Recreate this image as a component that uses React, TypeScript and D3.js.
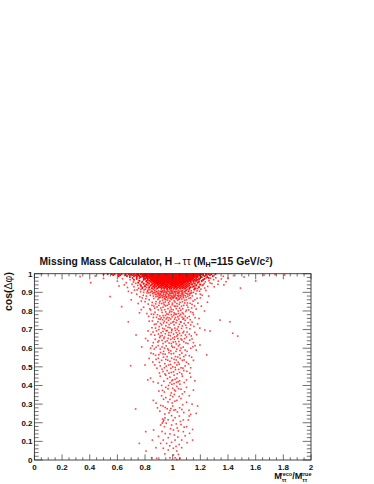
import React from "react";
import * as d3 from "d3";

const xLabels = [0, 0.2, 0.4, 0.6, 0.8, 1, 1.2, 1.4, 1.6, 1.8, 2];
const yLabels = [0, 0.1, 0.2, 0.3, 0.4, 0.5, 0.6, 0.7, 0.8, 0.9, 1];

// solid part under the top edge: one cos value per row, masses read along it
const coreCos = [0.997, 0.992, 0.987, 0.982, 0.977, 0.972, 0.967, 0.962, 0.957, 0.952, 0.947, 0.942, 0.937, 0.932, 0.927, 0.922];
const coreMass = [
  [0.5, 0.53, 0.56, 0.58, 0.61, 0.63, 0.66, 0.68, 0.7, 0.72, 0.74, 0.75, 0.77, 0.78, 0.79, 0.8, 0.81, 0.82, 0.83, 0.84, 0.85, 0.86, 0.87, 0.88, 0.89, 0.9, 0.91, 0.92, 0.93, 0.94, 0.95, 0.96, 0.97, 0.98, 0.99, 1, 1.01, 1.02, 1.03, 1.04, 1.05, 1.06, 1.07, 1.08, 1.09, 1.1, 1.11, 1.12, 1.13, 1.14, 1.15, 1.16, 1.17, 1.18, 1.19, 1.2, 1.21, 1.22, 1.24, 1.26, 1.28, 1.31],
  [0.57, 0.62, 0.66, 0.69, 0.71, 0.73, 0.75, 0.76, 0.78, 0.79, 0.8, 0.81, 0.82, 0.83, 0.84, 0.85, 0.86, 0.87, 0.88, 0.89, 0.9, 0.91, 0.92, 0.93, 0.94, 0.95, 0.96, 0.97, 0.98, 0.99, 1, 1.01, 1.02, 1.03, 1.04, 1.05, 1.06, 1.07, 1.08, 1.09, 1.1, 1.11, 1.12, 1.13, 1.14, 1.15, 1.16, 1.17, 1.18, 1.19, 1.2, 1.22, 1.24, 1.27],
  [0.61, 0.67, 0.72, 0.74, 0.76, 0.78, 0.79, 0.8, 0.81, 0.82, 0.83, 0.84, 0.85, 0.86, 0.87, 0.88, 0.89, 0.9, 0.91, 0.92, 0.93, 0.94, 0.95, 0.96, 0.97, 0.98, 0.99, 1, 1.01, 1.02, 1.03, 1.04, 1.05, 1.06, 1.07, 1.08, 1.09, 1.1, 1.11, 1.12, 1.13, 1.14, 1.15, 1.16, 1.17, 1.18, 1.2, 1.23, 1.29],
  [0.69, 0.74, 0.77, 0.79, 0.81, 0.82, 0.83, 0.84, 0.85, 0.86, 0.87, 0.88, 0.89, 0.9, 0.91, 0.92, 0.93, 0.94, 0.95, 0.96, 0.97, 0.98, 0.99, 1, 1.01, 1.02, 1.03, 1.04, 1.05, 1.06, 1.07, 1.08, 1.09, 1.1, 1.11, 1.12, 1.13, 1.14, 1.15, 1.16, 1.18, 1.21, 1.25],
  [0.71, 0.76, 0.79, 0.81, 0.83, 0.84, 0.85, 0.86, 0.87, 0.88, 0.89, 0.9, 0.91, 0.92, 0.93, 0.94, 0.95, 0.96, 0.97, 0.98, 0.99, 1, 1.01, 1.02, 1.03, 1.04, 1.05, 1.06, 1.07, 1.08, 1.09, 1.1, 1.11, 1.12, 1.13, 1.14, 1.15, 1.17, 1.2, 1.26],
  [0.74, 0.8, 0.82, 0.84, 0.85, 0.86, 0.87, 0.88, 0.89, 0.9, 0.91, 0.92, 0.93, 0.94, 0.95, 0.96, 0.97, 0.98, 0.99, 1, 1.01, 1.02, 1.03, 1.04, 1.05, 1.06, 1.07, 1.08, 1.09, 1.1, 1.11, 1.12, 1.13, 1.14, 1.15, 1.17, 1.19, 1.23],
  [0.72, 0.79, 0.82, 0.84, 0.85, 0.86, 0.87, 0.88, 0.89, 0.9, 0.91, 0.92, 0.93, 0.94, 0.95, 0.96, 0.97, 0.98, 0.99, 1, 1.01, 1.02, 1.03, 1.04, 1.05, 1.06, 1.07, 1.08, 1.09, 1.1, 1.11, 1.12, 1.13, 1.14, 1.16, 1.18, 1.22],
  [0.76, 0.81, 0.83, 0.85, 0.86, 0.87, 0.88, 0.89, 0.9, 0.91, 0.92, 0.93, 0.94, 0.95, 0.96, 0.97, 0.98, 0.99, 1, 1.01, 1.02, 1.03, 1.04, 1.05, 1.06, 1.07, 1.08, 1.09, 1.1, 1.11, 1.12, 1.13, 1.15, 1.17, 1.21],
  [0.78, 0.81, 0.84, 0.86, 0.87, 0.88, 0.89, 0.9, 0.91, 0.92, 0.93, 0.94, 0.95, 0.96, 0.97, 0.98, 0.99, 1, 1.01, 1.02, 1.03, 1.04, 1.05, 1.06, 1.07, 1.08, 1.09, 1.1, 1.11, 1.13, 1.15, 1.19],
  [0.75, 0.82, 0.85, 0.87, 0.88, 0.89, 0.9, 0.91, 0.92, 0.93, 0.94, 0.95, 0.96, 0.97, 0.98, 0.99, 1, 1.01, 1.02, 1.03, 1.04, 1.05, 1.06, 1.07, 1.08, 1.09, 1.11, 1.13, 1.18],
  [0.79, 0.83, 0.86, 0.88, 0.89, 0.9, 0.91, 0.92, 0.93, 0.94, 0.96, 0.97, 0.98, 0.99, 1, 1.01, 1.02, 1.03, 1.04, 1.05, 1.06, 1.07, 1.08, 1.1, 1.12, 1.16],
  [0.81, 0.85, 0.87, 0.89, 0.9, 0.92, 0.93, 0.94, 0.95, 0.96, 0.98, 0.99, 1, 1.01, 1.02, 1.03, 1.04, 1.06, 1.07, 1.09, 1.11, 1.14, 1.2],
  [0.77, 0.84, 0.87, 0.89, 0.91, 0.92, 0.93, 0.95, 0.96, 0.97, 0.99, 1, 1.01, 1.02, 1.04, 1.05, 1.06, 1.08, 1.1, 1.12, 1.17],
  [0.8, 0.86, 0.88, 0.9, 0.92, 0.94, 0.95, 0.96, 0.98, 0.99, 1.01, 1.02, 1.03, 1.05, 1.07, 1.09, 1.11, 1.15],
  [0.83, 0.87, 0.9, 0.91, 0.93, 0.95, 0.97, 0.98, 1, 1.02, 1.04, 1.06, 1.08, 1.1, 1.13, 1.19],
  [0.78, 0.85, 0.89, 0.92, 0.94, 0.96, 0.98, 0.99, 1.01, 1.03, 1.05, 1.07, 1.09, 1.12, 1.16],
];

// scattered events, grouped by height in the plot: [mass ratio, cos]
const upperEvents: [number, number][] = [
  [0.33, 0.985], [0.407, 0.952], [0.5, 0.975], [0.44, 0.988], [0.547, 0.877], [0.6, 0.96], [0.631, 0.823], [0.65, 0.94], [0.68, 0.905], [0.7, 0.86],
  [0.72, 0.93], [0.74, 0.89], [0.75, 0.84], [0.77, 0.915], [0.78, 0.87], [0.79, 0.9], [0.8, 0.85], [0.81, 0.88], [0.82, 0.91], [0.83, 0.86],
  [0.84, 0.9], [0.85, 0.83], [0.86, 0.88], [0.87, 0.91], [0.88, 0.85], [0.89, 0.895], [0.9, 0.87], [0.91, 0.905], [0.92, 0.84], [0.93, 0.885],
  [0.94, 0.91], [0.95, 0.86], [0.96, 0.895], [0.97, 0.845], [0.98, 0.905], [0.99, 0.875], [1, 0.91], [1.01, 0.855], [1.02, 0.89], [1.03, 0.84],
  [1.04, 0.9], [1.05, 0.865], [1.06, 0.91], [1.07, 0.85], [1.08, 0.885], [1.09, 0.905], [1.1, 0.86], [1.11, 0.89], [1.12, 0.915], [1.13, 0.87],
  [1.15, 0.9], [1.16, 0.86], [1.18, 0.92], [1.2, 0.89], [1.22, 0.94], [1.24, 0.91], [1.27, 0.95], [1.3, 0.93], [1.33, 0.96], [1.37, 0.94],
  [1.4, 0.975], [1.44, 0.99], [1.49, 0.923], [1.516, 0.982], [1.6, 0.961], [1.66, 0.993], [1.74, 0.995], [1.81, 0.993], [1.2, 0.87], [1.26, 0.88],
  [0.91, 0.875], [0.94, 0.865], [0.97, 0.885], [1, 0.875], [1.03, 0.87], [1.06, 0.88], [0.93, 0.905], [0.96, 0.915], [0.99, 0.895], [1.02, 0.915],
  [0.9, 0.89], [0.92, 0.9], [0.95, 0.89], [0.98, 0.87], [1.01, 0.88], [1.04, 0.885], [1.07, 0.9], [1.1, 0.91], [0.88, 0.905], [0.86, 0.915],
  [0.9, 0.83], [0.93, 0.82], [0.96, 0.83], [0.99, 0.81], [1.02, 0.825], [1.05, 0.815], [1.08, 0.83], [1.11, 0.82], [1.14, 0.835], [0.87, 0.815],
  [0.84, 0.805], [0.92, 0.805], [0.95, 0.795], [0.98, 0.8], [1.01, 0.79], [1.04, 0.8], [1.07, 0.79], [1.1, 0.805], [1.13, 0.795], [1.17, 0.81],
  [0.79, 0.82], [0.76, 0.79], [0.89, 0.78], [0.93, 0.775], [0.96, 0.765], [0.99, 0.78], [1.02, 0.765], [1.05, 0.775], [1.08, 0.76], [1.12, 0.77],
  [1.15, 0.78], [1.19, 0.76], [1.23, 0.8], [0.86, 0.765], [0.91, 0.755], [0.94, 0.745], [0.97, 0.75], [1, 0.74], [1.03, 0.75], [1.06, 0.74],
  [1.09, 0.75], [1.342, 0.751], [1.414, 0.742], [0.679, 0.742], [0.83, 0.745], [1.14, 0.74], [0.88, 0.73], [0.92, 0.725], [0.95, 0.72], [0.98, 0.71],
  [1.01, 0.725], [1.04, 0.715], [1.07, 0.72], [1.1, 0.71], [1.13, 0.725], [1.18, 0.73], [1.232, 0.698], [1.27, 0.692], [0.85, 0.71], [0.9, 0.7],
  [0.735, 0.671], [0.93, 0.69], [0.96, 0.695], [0.99, 0.685], [1.02, 0.695], [1.05, 0.68], [1.08, 0.69], [1.12, 0.675], [1.16, 0.685], [1.434, 0.68],
  [1.47, 0.665], [0.87, 0.67], [0.91, 0.665], [0.94, 0.66], [0.97, 0.67], [1, 0.655], [1.03, 0.665], [1.06, 0.65], [1.1, 0.66], [1.14, 0.65],
];

// second pass over the busy area between 0.75 and 0.92
const upperFill: [number, number][] = [
  [0.793, 0.913], [0.814, 0.897], [0.826, 0.918], [0.838, 0.884], [0.847, 0.907], [0.856, 0.893], [0.863, 0.867], [0.871, 0.899], [0.879, 0.876], [0.884, 0.918],
  [0.893, 0.862], [0.897, 0.908], [0.903, 0.884], [0.908, 0.852], [0.913, 0.893], [0.918, 0.915], [0.924, 0.871], [0.927, 0.857], [0.933, 0.897], [0.937, 0.918],
  [0.942, 0.878], [0.946, 0.848], [0.951, 0.904], [0.954, 0.873], [0.958, 0.918], [0.963, 0.858], [0.967, 0.906], [0.972, 0.877], [0.974, 0.916], [0.979, 0.853],
  [0.983, 0.893], [0.987, 0.914], [0.991, 0.862], [0.994, 0.904], [0.998, 0.842], [1.003, 0.894], [1.006, 0.917], [1.009, 0.872], [1.013, 0.903], [1.017, 0.848],
  [1.021, 0.906], [1.024, 0.869], [1.028, 0.918], [1.033, 0.896], [1.036, 0.857], [1.041, 0.912], [1.044, 0.876], [1.048, 0.897], [1.053, 0.846], [1.056, 0.918],
  [1.062, 0.893], [1.066, 0.864], [1.071, 0.908], [1.075, 0.877], [1.082, 0.916], [1.086, 0.858], [1.092, 0.896], [1.097, 0.873], [1.104, 0.917], [1.107, 0.843],
  [1.114, 0.903], [1.118, 0.868], [1.124, 0.892], [1.134, 0.908], [1.142, 0.881], [1.147, 0.853], [1.157, 0.914], [1.168, 0.892], [1.176, 0.868], [1.194, 0.906],
  [1.213, 0.884], [1.231, 0.923], [0.703, 0.897], [0.743, 0.913], [0.762, 0.876], [0.773, 0.853], [0.806, 0.866], [0.823, 0.837], [0.834, 0.812], [0.852, 0.846],
  [0.864, 0.826], [0.876, 0.838], [0.887, 0.821], [0.896, 0.806], [0.904, 0.843], [0.914, 0.816], [0.923, 0.792], [0.934, 0.843], [0.943, 0.807], [0.948, 0.827],
  [0.957, 0.784], [0.966, 0.812], [0.973, 0.836], [0.977, 0.792], [0.984, 0.821], [0.993, 0.796], [0.997, 0.833], [1.004, 0.806], [1.012, 0.826], [1.018, 0.783],
  [1.026, 0.812], [1.034, 0.826], [1.042, 0.787], [1.047, 0.836], [1.058, 0.804], [1.064, 0.826], [1.072, 0.812], [1.078, 0.784], [1.087, 0.843], [1.094, 0.797],
  [1.103, 0.831], [1.116, 0.806], [1.126, 0.841], [1.137, 0.816], [1.146, 0.791], [1.158, 0.827], [1.182, 0.842], [1.207, 0.826], [1.251, 0.847], [0.773, 0.807],
  [0.813, 0.786], [0.846, 0.783], [0.872, 0.793], [0.883, 0.766], [0.898, 0.757], [0.907, 0.773], [0.917, 0.763], [0.927, 0.753], [0.937, 0.764], [0.947, 0.776],
  [0.953, 0.757], [0.968, 0.782], [0.974, 0.763], [0.986, 0.757], [0.996, 0.768], [1.007, 0.777], [1.014, 0.756], [1.027, 0.783], [1.037, 0.768], [1.044, 0.757],
  [1.057, 0.782], [1.068, 0.767], [1.074, 0.756], [1.091, 0.772], [1.106, 0.763], [1.127, 0.753], [1.162, 0.764], [0.862, 0.782], [0.826, 0.771], [0.938, 0.833],
];

// shoulders either side of the core, and the darker patch just below it
const shoulderEvents: [number, number][] = [
  [0.612, 0.934], [0.637, 0.973], [0.664, 0.952], [0.673, 0.926], [0.692, 0.968], [0.706, 0.943], [0.716, 0.955], [0.724, 0.912], [0.733, 0.948], [0.747, 0.937],
  [0.753, 0.922], [0.757, 0.963], [0.764, 0.943], [0.768, 0.903], [0.772, 0.931], [0.776, 0.952], [0.784, 0.928], [0.787, 0.884], [0.791, 0.946], [0.797, 0.934],
  [0.803, 0.917], [0.808, 0.942], [0.812, 0.926], [0.817, 0.906], [0.821, 0.938], [0.827, 0.897], [0.832, 0.927], [0.836, 0.914], [0.842, 0.936], [0.848, 0.921],
  [0.853, 0.904], [0.858, 0.931], [0.862, 0.898], [0.868, 0.921], [0.874, 0.889], [1.126, 0.926], [1.133, 0.943], [1.137, 0.897], [1.143, 0.928], [1.148, 0.948],
  [1.153, 0.916], [1.158, 0.934], [1.163, 0.958], [1.167, 0.921], [1.172, 0.941], [1.176, 0.908], [1.183, 0.953], [1.187, 0.931], [1.192, 0.967], [1.197, 0.942],
  [1.204, 0.917], [1.208, 0.958], [1.214, 0.937], [1.221, 0.968], [1.227, 0.947], [1.236, 0.956], [1.243, 0.978], [1.253, 0.932], [1.262, 0.962], [1.273, 0.976],
  [1.284, 0.947], [1.296, 0.968], [1.312, 0.978], [1.327, 0.943], [1.352, 0.972], [1.366, 0.986], [1.386, 0.957], [0.882, 0.887], [0.886, 0.903], [0.892, 0.879],
  [0.899, 0.897], [0.906, 0.872], [0.911, 0.887], [0.917, 0.904], [0.921, 0.882], [0.926, 0.908], [0.931, 0.876], [0.936, 0.889], [0.941, 0.902], [0.944, 0.868],
  [0.949, 0.882], [0.953, 0.899], [0.957, 0.876], [0.962, 0.907], [0.966, 0.868], [0.969, 0.889], [0.976, 0.898], [0.981, 0.884], [0.986, 0.867], [0.989, 0.908],
  [0.993, 0.882], [0.997, 0.897], [1.002, 0.868], [1.007, 0.886], [1.011, 0.904], [1.016, 0.878], [1.019, 0.897], [1.023, 0.884], [1.027, 0.866], [1.031, 0.906],
  [1.036, 0.881], [1.039, 0.894], [1.043, 0.863], [1.047, 0.906], [1.052, 0.884], [1.057, 0.873], [1.063, 0.904], [1.068, 0.886], [1.073, 0.893], [1.079, 0.871],
  [1.084, 0.903], [1.091, 0.882], [1.096, 0.911], [1.102, 0.893], [1.109, 0.879], [1.116, 0.907], [1.122, 0.884], [1.129, 0.896],
];

const middleEvents: [number, number][] = [
  [0.82, 0.64], [0.86, 0.63], [0.9, 0.64], [0.93, 0.625], [0.96, 0.64], [0.99, 0.625], [1.02, 0.635], [1.05, 0.62], [1.08, 0.635], [1.11, 0.625],
  [1.15, 0.63], [1.197, 0.617], [0.84, 0.6], [0.88, 0.605], [0.91, 0.595], [0.94, 0.6], [0.97, 0.59], [1, 0.605], [1.03, 0.595], [1.06, 0.6],
  [1.09, 0.59], [1.13, 0.6], [1.17, 0.59], [1.246, 0.564], [0.86, 0.57], [0.9, 0.565], [0.93, 0.57], [0.96, 0.555], [0.99, 0.57], [1.02, 0.555],
  [1.05, 0.565], [1.08, 0.555], [1.12, 0.56], [0.83, 0.545], [0.88, 0.54], [0.92, 0.535], [0.95, 0.54], [0.98, 0.53], [1.01, 0.54], [1.04, 0.525],
  [1.07, 0.535], [1.1, 0.525], [1.15, 0.535], [0.696, 0.506], [0.8, 0.51], [0.87, 0.51], [0.91, 0.505], [0.94, 0.495], [0.97, 0.51], [1, 0.5],
  [1.03, 0.51], [1.06, 0.495], [1.09, 0.505], [1.13, 0.495], [0.93, 0.475], [0.96, 0.48], [0.99, 0.47], [1.02, 0.485], [1.05, 0.47], [1.08, 0.48],
  [0.82, 0.43], [0.84, 0.44], [0.86, 0.42], [0.91, 0.45], [0.95, 0.455], [0.98, 0.445], [1, 0.43], [1.01, 0.455], [1.03, 0.44], [1.05, 0.425],
  [1.07, 0.45], [1.1, 0.43], [1.13, 0.445], [1.16, 0.425], [0.98, 0.415], [1.01, 0.41], [1.04, 0.42], [0.92, 0.4], [0.95, 0.39], [0.97, 0.4],
  [1, 0.385], [1.03, 0.395], [1.06, 0.38], [1.1, 0.39], [1.15, 0.375], [0.9, 0.37], [0.94, 0.365], [0.99, 0.36], [1.02, 0.37], [1.07, 0.355],
  [1.12, 0.345], [0.86, 0.32], [0.88, 0.305], [0.92, 0.345], [0.95, 0.335], [0.98, 0.325], [1, 0.34], [1.03, 0.32], [1.06, 0.33], [1.1, 0.31],
  [1.14, 0.3], [1.18, 0.29], [0.732, 0.274], [0.89, 0.28], [0.93, 0.29], [0.96, 0.275], [0.98, 0.265], [1, 0.29], [1.02, 0.27], [1.05, 0.28],
  [1.08, 0.255], [1.13, 0.245], [1.17, 0.25],
];

// second pass between 0.25 and 0.75
const middleFill: [number, number][] = [
  [0.853, 0.746], [0.867, 0.728], [0.876, 0.708], [0.893, 0.742], [0.903, 0.716], [0.912, 0.733], [0.927, 0.707], [0.934, 0.736], [0.941, 0.703], [0.957, 0.738],
  [0.966, 0.712], [0.974, 0.727], [0.987, 0.734], [0.994, 0.702], [1.008, 0.743], [1.016, 0.708], [1.024, 0.737], [1.033, 0.703], [1.048, 0.728], [1.056, 0.742],
  [1.064, 0.706], [1.083, 0.733], [1.094, 0.723], [1.112, 0.737], [1.124, 0.704], [1.153, 0.717], [1.196, 0.708], [0.822, 0.693], [0.843, 0.674], [0.858, 0.687],
  [0.883, 0.693], [0.897, 0.676], [0.916, 0.683], [0.924, 0.668], [0.947, 0.678], [0.953, 0.693], [0.972, 0.684], [0.983, 0.667], [0.993, 0.696], [1.006, 0.676],
  [1.014, 0.661], [1.027, 0.683], [1.037, 0.672], [1.043, 0.694], [1.062, 0.668], [1.074, 0.683], [1.092, 0.671], [1.104, 0.687], [1.134, 0.666], [1.173, 0.673],
  [0.804, 0.652], [0.874, 0.648], [0.892, 0.633], [0.906, 0.657], [0.923, 0.642], [0.936, 0.652], [0.947, 0.634], [0.967, 0.653], [0.974, 0.628], [0.986, 0.647],
  [1.004, 0.633], [1.012, 0.648], [1.026, 0.623], [1.037, 0.652], [1.044, 0.636], [1.067, 0.644], [1.086, 0.652], [1.096, 0.628], [1.123, 0.643], [1.162, 0.614],
  [0.776, 0.607], [0.853, 0.613], [0.867, 0.596], [0.896, 0.614], [0.923, 0.607], [0.934, 0.583], [0.953, 0.613], [0.964, 0.597], [0.986, 0.586], [0.993, 0.612],
  [1.013, 0.604], [1.024, 0.583], [1.042, 0.612], [1.053, 0.587], [1.076, 0.606], [1.104, 0.583], [1.146, 0.608], [0.843, 0.574], [0.876, 0.562], [0.912, 0.577],
  [0.946, 0.568], [0.973, 0.576], [1.007, 0.572], [1.036, 0.553], [1.066, 0.574], [1.093, 0.563], [1.137, 0.552], [0.896, 0.546], [0.933, 0.552], [0.964, 0.536],
  [0.992, 0.547], [1.026, 0.537], [1.054, 0.546], [1.083, 0.537], [0.856, 0.526], [0.904, 0.524], [0.943, 0.517], [0.984, 0.513], [1.014, 0.522], [1.047, 0.514],
  [1.114, 0.516], [0.886, 0.493], [0.923, 0.487], [0.953, 0.503], [0.987, 0.492], [1.018, 0.497], [1.043, 0.486], [1.074, 0.493], [1.103, 0.476], [0.904, 0.467],
  [0.944, 0.462], [0.973, 0.466], [1.006, 0.473], [1.033, 0.463], [1.066, 0.462], [1.124, 0.466], [0.962, 0.437], [0.993, 0.426], [1.017, 0.433], [1.027, 0.417],
  [0.994, 0.406], [1.052, 0.407], [1.083, 0.416], [0.936, 0.423], [0.894, 0.413], [0.966, 0.382], [1.013, 0.376], [1.042, 0.383], [1.086, 0.366], [0.926, 0.374],
  [0.984, 0.347], [1.012, 0.352], [1.047, 0.341], [0.934, 0.326], [0.966, 0.312], [0.997, 0.306], [1.016, 0.316], [1.072, 0.297], [0.913, 0.293], [0.946, 0.282],
  [0.987, 0.276], [1.009, 0.267], [1.034, 0.258], [0.973, 0.253], [1.066, 0.271], [1.118, 0.267], [0.907, 0.262], [0.943, 0.247],
];

const lowerEvents: [number, number][] = [
  [0.927, 0.22], [0.932, 0.206], [0.913, 0.188], [0.94, 0.179], [0.992, 0.238], [1.017, 0.227], [1.048, 0.236], [1.077, 0.215], [1.12, 0.236], [1.113, 0.215],
  [0.992, 0.188], [1.005, 0.161], [1.041, 0.156], [1.077, 0.152], [1.101, 0.179], [1.144, 0.164], [1.144, 0.107], [0.968, 0.12], [0.932, 0.107], [0.913, 0.089],
  [0.956, 0.089], [0.992, 0.095], [1.017, 0.107], [1.065, 0.107], [0.932, 0.063], [0.968, 0.054], [1.005, 0.063], [1.029, 0.048], [1.065, 0.066], [1.005, 0.027],
  [1.041, 0.03], [1.053, 0.009], [1.017, 0.012], [0.848, 0.012], [0.884, 0.009], [0.98, 0.012], [1.029, 0.003], [0.805, 0.152], [0.759, 0.089], [0.807, 0.048],
  [0.862, 0.161], [0.853, 0.107], [0.879, 0.066], [0.925, 0.198], [0.935, 0.214], [1.06, 0.19], [1.09, 0.13], [0.98, 0.14],
  [0.944, 0.226], [0.953, 0.197], [0.967, 0.216], [0.984, 0.168], [1.003, 0.213], [1.026, 0.194], [1.033, 0.172], [1.056, 0.207], [0.923, 0.153], [0.946, 0.142],
  [1.012, 0.134], [1.037, 0.123], [1.083, 0.176], [1.122, 0.143], [0.897, 0.127], [0.978, 0.076], [1.047, 0.083], [1.104, 0.093], [0.943, 0.033], [1.024, 0.073],
];

const width = 374;
const height = 484;
const left = 34.4;
const right = 311;
const top = 273.7;
const bottom = 460;

const x = d3.scaleLinear().domain([0, 2]).range([left, right]);
const y = d3.scaleLinear().domain([0, 1]).range([bottom, top]);

const corePoints = coreCos.flatMap((c, i) => coreMass[i].map((m) => [m, c] as [number, number]));
const scatterPoints = [...upperEvents, ...upperFill, ...shoulderEvents, ...middleEvents, ...middleFill, ...lowerEvents];

const labelFont = "'Liberation Sans', Arial, sans-serif";
const axisColor = "#333";

export default function App() {
  const xMinor = x.ticks(40);
  const yMinor = y.ticks(50);
  const isMajor = (v: number, list: number[]) => list.some((l) => Math.abs(l - v) < 1e-6);

  return (
    <svg
      width={width}
      height={height}
      style={{ position: "absolute", left: 0, top: 0, background: "#fff" }}
      fontFamily={labelFont}
    >
      <g fill="#ff0000">
        {corePoints.map(([m, c], i) => (
          <rect key={"c" + i} x={x(m) - 0.85} y={y(c) - 0.9} width={1.7} height={1.8} />
        ))}
      </g>
      <g fill="#ff0000" fillOpacity={0.75}>
        {scatterPoints.map(([m, c], i) => (
          <rect key={"s" + i} x={x(m) - 0.8} y={y(c) - 0.8} width={1.6} height={1.6} />
        ))}
      </g>

      <g stroke={axisColor} strokeWidth={0.7}>
        {xMinor.map((v) => {
          const len = isMajor(v, xLabels) ? 5.6 : 2.8;
          return (
            <g key={"x" + v}>
              <line x1={x(v)} x2={x(v)} y1={bottom} y2={bottom - len} />
              <line x1={x(v)} x2={x(v)} y1={top} y2={top + len} />
            </g>
          );
        })}
        {yMinor.map((v) => {
          const len = isMajor(v, yLabels) ? 8.3 : 4.2;
          return (
            <g key={"y" + v}>
              <line x1={left} x2={left + len} y1={y(v)} y2={y(v)} />
              <line x1={right} x2={right - len} y1={y(v)} y2={y(v)} />
            </g>
          );
        })}
      </g>
      <rect x={left} y={top} width={right - left} height={bottom - top} fill="none" stroke={axisColor} strokeWidth={0.9} />

      <g fontSize={8} fontWeight="bold" fill="#111">
        {xLabels.map((v) => (
          <text key={v} x={x(v)} y={470} textAnchor="middle">
            {v}
          </text>
        ))}
        {yLabels.map((v) => (
          <text key={v} x={32.5} y={y(v) + 2.8} textAnchor="end">
            {v}
          </text>
        ))}
      </g>

      <text x={39.5} y={265} fontSize={10.3} fontWeight="bold" fill="#111">
        Missing Mass Calculator, H
        <tspan fontWeight="normal">→ττ</tspan> (M
        <tspan fontSize={7} dy={2}>H</tspan>
        <tspan dy={-2}>=115 GeV/c</tspan>
        <tspan fontSize={7} dy={-3.5}>2</tspan>
        <tspan dy={3.5}>)</tspan>
      </text>

      <text
        transform="translate(11.5,311) rotate(-90)"
        fontSize={10.5}
        fontWeight="bold"
        fill="#111"
      >
        cos(<tspan fontWeight="normal">Δφ</tspan>)
      </text>

      <text x={311.5} y={479} textAnchor="end" fontSize={9} fontWeight="bold" fill="#111">
        M
        <tspan fontSize={5.5} dy={2.5}>ττ</tspan>
        <tspan fontSize={5.5} dy={-6} dx={-6}>reco</tspan>
        <tspan dy={3.5}>/M</tspan>
        <tspan fontSize={5.5} dy={2.5}>ττ</tspan>
        <tspan fontSize={5.5} dy={-6} dx={-6}>true</tspan>
      </text>
    </svg>
  );
}
